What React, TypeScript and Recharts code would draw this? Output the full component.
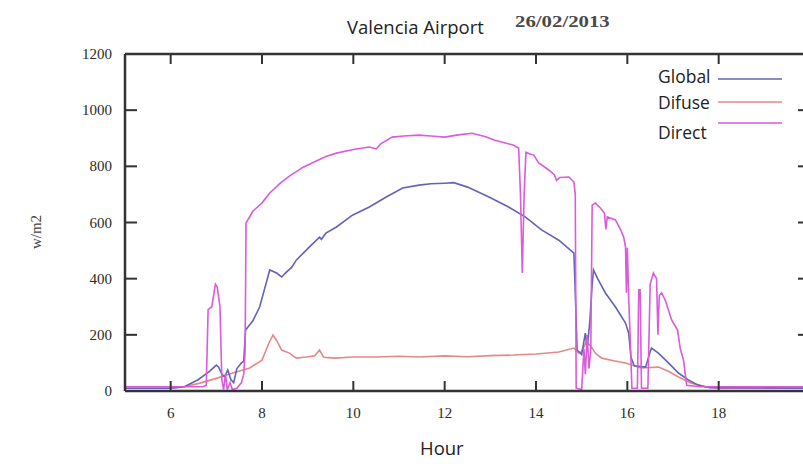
import React from 'react';
import { LineChart, Line, XAxis, YAxis, Legend, ReferenceLine } from 'recharts';

// ---- data (hour, W/m2) ----
const directHours = [5.0, 6.7, 6.78, 6.82, 6.9, 6.98, 7.02, 7.08, 7.12, 7.16, 7.2, 7.24, 7.3, 7.35, 7.45, 7.55, 7.6, 7.63, 7.65, 7.8, 8.0, 8.17, 8.4, 8.6, 8.9, 9.2, 9.4, 9.63, 10.0, 10.35, 10.5, 10.6, 10.85, 11.1, 11.44, 11.7, 12.0, 12.3, 12.6, 12.9, 13.1, 13.35, 13.5, 13.62, 13.66, 13.7, 13.74, 13.78, 13.85, 13.95, 14.06, 14.28, 14.4, 14.45, 14.52, 14.72, 14.83, 14.86, 14.88, 15.0, 15.05, 15.08, 15.12, 15.16, 15.2, 15.23, 15.3, 15.42, 15.5, 15.53, 15.56, 15.74, 15.85, 15.92, 15.96, 15.98, 16.0, 16.03, 16.06, 16.1, 16.22, 16.25, 16.28, 16.31, 16.45, 16.5, 16.57, 16.64, 16.67, 16.7, 16.75, 16.83, 16.97, 17.1, 17.16, 17.23, 17.3, 17.6, 20.0];
const directValues = [15, 15, 20, 290, 300, 380, 370, 300, 40, 5, 60, 5, 30, 5, 10, 30, 60, 140, 598, 640, 670, 705, 740, 765, 797, 820, 835, 847, 860, 869, 862, 880, 904, 908, 911, 908, 904, 912, 918, 905, 893, 882, 876, 865, 700, 420, 700, 850, 845, 840, 812, 787, 770, 750, 760, 762, 744, 700, 10, 5, 150, 60, 200, 80, 150, 662, 669, 650, 633, 575, 620, 609, 575, 548, 513, 350, 510, 330, 200, 10, 10, 360, 360, 10, 10, 380, 420, 400, 200, 340, 349, 324, 253, 217, 150, 110, 20, 15, 15];

const globalHours = [5.0, 6.0, 6.3, 6.6, 6.85, 7.0, 7.05, 7.12, 7.18, 7.25, 7.32, 7.38, 7.45, 7.55, 7.6, 7.64, 7.8, 7.95, 8.05, 8.17, 8.32, 8.43, 8.54, 8.65, 8.75, 9.04, 9.26, 9.3, 9.4, 9.63, 9.98, 10.35, 10.72, 11.08, 11.44, 11.7, 12.0, 12.2, 12.5, 12.97, 13.4, 13.77, 14.13, 14.5, 14.83, 14.87, 14.9, 15.0, 15.08, 15.12, 15.18, 15.23, 15.26, 15.35, 15.52, 15.74, 15.96, 16.03, 16.08, 16.15, 16.4, 16.5, 16.53, 16.68, 16.9, 17.12, 17.34, 17.55, 17.8, 20.0];
const globalValues = [10, 10, 15, 40, 70, 92, 85, 60, 50, 75, 40, 30, 80, 100, 105, 217, 250, 300, 360, 431, 420, 406, 424, 440, 466, 513, 548, 540, 562, 584, 626, 655, 691, 723, 733, 738, 740, 742, 726, 691, 655, 619, 573, 537, 491, 300, 146, 130, 206, 150, 250, 380, 431, 400, 349, 299, 242, 206, 120, 90, 85, 140, 153, 135, 100, 64, 39, 21, 12, 10];

const diffuseHours = [5.0, 6.0, 6.3, 6.64, 7.0, 7.36, 7.73, 8.0, 8.15, 8.24, 8.32, 8.43, 8.6, 8.75, 8.97, 9.15, 9.26, 9.35, 9.6, 9.98, 10.5, 11.0, 11.44, 12.0, 12.5, 13.0, 13.5, 14.0, 14.5, 14.83, 14.93, 15.0, 15.1, 15.2, 15.3, 15.44, 15.7, 15.96, 16.3, 16.68, 16.9, 17.12, 17.4, 17.7, 18.0, 20.0];
const diffuseValues = [10, 10, 15, 28, 45, 64, 82, 110, 170, 199, 180, 146, 135, 117, 121, 125, 146, 120, 117, 121, 121, 124, 121, 125, 122, 126, 128, 132, 139, 153, 135, 140, 174, 160, 135, 117, 108, 100, 82, 85, 70, 50, 28, 15, 10, 10];

const xTicks = [6, 8, 10, 12, 14, 16, 18];
const yTicks = [0, 200, 400, 600, 800, 1000, 1200];
const Y_MAX = 1200;
const seriesNames = ['Global', 'Difuse', 'Direct'];
const seriesColors = ['#6363b8', '#e28a86', '#dc5adc'];

const toRows = (hs: number[], vs: number[]) => hs.map((h, i) => ({ h, v: vs[i] }));
const globalData = toRows(globalHours, globalValues);
const diffuseData = toRows(diffuseHours, diffuseValues);
const directData = toRows(directHours, directValues);

const CHART_W = 820;
const CHART_H = 464;
const MARGIN = { top: 53, right: 9, bottom: 43, left: 65 };
const BOTTOM_AXIS_H = 30;
const TOP_AXIS_H = 1;
const PLOT_H = CHART_H - MARGIN.top - MARGIN.bottom - BOTTOM_AXIS_H - TOP_AXIS_H;
const TICK_LEN_UNITS = (10 / PLOT_H) * Y_MAX; // 10px inward tick expressed in y units

const AXIS = '#333';
const SANS = '"Open Sans", "Noto Sans", sans-serif';
const SERIF = '"Liberation Serif", "DejaVu Serif", serif';
const tickFont = { fontFamily: SERIF, fontSize: 15, fill: '#2a2a2a' };

const BottomTick = (p: any) => {
  const { x, y, payload } = p;
  return (
    <g>
      <line x1={x} x2={x} y1={y} y2={y - 10} stroke={AXIS} strokeWidth={2} />
      <text x={x} y={y + 27} textAnchor="middle" {...tickFont}>{payload.value}</text>
    </g>
  );
};
const LeftTick = (p: any) => {
  const { x, y, payload } = p;
  return (
    <g>
      <line x1={x} x2={x + 12} y1={y} y2={y} stroke={AXIS} strokeWidth={2} />
      <text x={x - 13} y={y + 5} textAnchor="end" {...tickFont}>{payload.value}</text>
    </g>
  );
};
const RightTick = (p: any) => {
  const { x, y } = p;
  return <line x1={x} x2={x - 12} y1={y} y2={y} stroke={AXIS} strokeWidth={2} />;
};

const LegendBox = () => {
  const textY = [17, 43, 73];
  const lineY = [19, 42, 63];
  return (
    <svg width={150} height={90} style={{ display: 'block' }}>
      {seriesNames.map((n, i) => (
        <g key={n}>
          <text x={8} y={textY[i] + 6} fontFamily={SANS} fontSize={17.5} fill="#222">{n}</text>
          <line x1={68} x2={132} y1={lineY[i]} y2={lineY[i]} stroke={seriesColors[i]} strokeWidth={1.6} />
        </g>
      ))}
    </svg>
  );
};

export default function App() {
  return (
    <div style={{ position: 'fixed', left: 0, top: 0, width: 803, height: 464, overflow: 'hidden', background: '#fff' }}>
      <LineChart width={CHART_W} height={CHART_H} margin={MARGIN}>
        <XAxis
          xAxisId="bottom"
          dataKey="h"
          type="number"
          domain={[5, 20]}
          allowDataOverflow
          ticks={xTicks}
          interval={0}
          height={BOTTOM_AXIS_H}
          tickSize={0}
          tickMargin={0}
          tickLine={false}
          axisLine={{ stroke: AXIS, strokeWidth: 2.5 }}
          tick={<BottomTick />}
        />
        <XAxis
          xAxisId="top"
          orientation="top"
          dataKey="h"
          type="number"
          domain={[5, 20]}
          allowDataOverflow
          ticks={xTicks}
          height={TOP_AXIS_H}
          tickLine={false}
          tick={false}
          axisLine={{ stroke: AXIS, strokeWidth: 2.5 }}
        />
        <YAxis
          yAxisId="left"
          type="number"
          domain={[0, Y_MAX]}
          allowDataOverflow
          ticks={yTicks}
          interval={0}
          width={60}
          tickSize={0}
          tickMargin={0}
          tickLine={false}
          axisLine={{ stroke: AXIS, strokeWidth: 2.5 }}
          tick={<LeftTick />}
        />
        <YAxis
          yAxisId="right"
          orientation="right"
          type="number"
          domain={[0, Y_MAX]}
          allowDataOverflow
          ticks={yTicks}
          interval={0}
          width={1}
          tickSize={0}
          tickMargin={0}
          tickLine={false}
          axisLine={{ stroke: AXIS, strokeWidth: 2.5 }}
          tick={<RightTick />}
        />
        {xTicks.map((t) => (
          <ReferenceLine
            key={'tt' + t}
            xAxisId="bottom"
            yAxisId="left"
            segment={[{ x: t, y: Y_MAX }, { x: t, y: Y_MAX - TICK_LEN_UNITS }]}
            stroke={AXIS}
            strokeWidth={2}
            ifOverflow="visible"
          />
        ))}
        <Legend
          layout="horizontal"
          verticalAlign="middle"
          align="center"
          wrapperStyle={{ position: 'absolute', left: 650, top: 60, width: 150, height: 90 }}
          content={<LegendBox />}
        />
        <Line xAxisId="bottom" yAxisId="left" data={diffuseData} dataKey="v" name="Difuse" type="linear" stroke={seriesColors[1]} strokeWidth={1.6} dot={false} isAnimationActive={false} />
        <Line xAxisId="bottom" yAxisId="left" data={globalData} dataKey="v" name="Global" type="linear" stroke={seriesColors[0]} strokeWidth={1.6} dot={false} isAnimationActive={false} />
        <Line xAxisId="bottom" yAxisId="left" data={directData} dataKey="v" name="Direct" type="linear" stroke={seriesColors[2]} strokeWidth={1.6} dot={false} isAnimationActive={false} />
      </LineChart>
      <div style={{ position: 'absolute', left: 347, top: 15, fontFamily: SANS, fontSize: 18.5, lineHeight: '24px', color: '#222', whiteSpace: 'nowrap' }}>Valencia Airport</div>
      <div style={{ position: 'absolute', left: 515, top: 11, fontFamily: SERIF, fontWeight: 'bold', fontSize: 16, lineHeight: '22px', color: '#4a4a4a', whiteSpace: 'nowrap', transform: 'scaleX(1.3)', transformOrigin: 'left center' }}>26/02/2013</div>
      <div style={{ position: 'absolute', left: 36, top: 232, fontFamily: SERIF, fontSize: 15, color: '#444', whiteSpace: 'nowrap', transform: 'translate(-50%, -50%) rotate(-90deg)' }}>w/m2</div>
      <div style={{ position: 'absolute', left: 420, top: 436, fontFamily: SANS, fontSize: 18.5, lineHeight: '24px', color: '#222', whiteSpace: 'nowrap' }}>Hour</div>
    </div>
  );
}
